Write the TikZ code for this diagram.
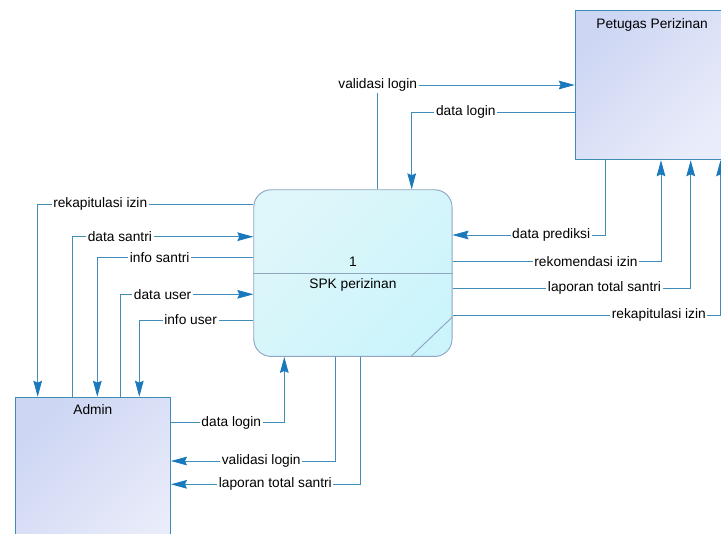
\documentclass[tikz,border=0pt]{standalone}
\usepackage{fontspec}
\setmainfont{Liberation Sans}
\usetikzlibrary{positioning,calc,arrows.meta}
\definecolor{flowline}{HTML}{3F8DB8}
\definecolor{flowtip}{HTML}{1A78BC}
\definecolor{entline}{HTML}{3D8DB5}
\definecolor{entdark}{HTML}{CDD6F3}
\definecolor{entlight}{HTML}{E9ECFA}
\definecolor{procline}{HTML}{8FA5C2}
\definecolor{procdark}{HTML}{DFF6FA}
\definecolor{proclight}{HTML}{CBF5FB}
\tikzstyle{flow} = [draw=flowline, line width=0.6pt, -{Stealth[length=12pt,width=6.5pt,inset=1.5pt,color=flowtip]}]
\tikzstyle{entity} = [draw=entline, line width=0.7pt, top color=entdark, bottom color=entlight, shading angle=45, anchor=north west, inner sep=0pt]
\tikzstyle{process} = [draw=procline, line width=0.7pt, rounded corners=13pt, top color=procdark, bottom color=proclight, shading angle=45, anchor=north west, inner sep=0pt]
\tikzstyle{lbl} = [fill=white, inner sep=1.2pt]

\begin{document}
\begin{tikzpicture}[x=0.75pt, y=-0.75pt]
\tikzstyle{every node}=[font=\fontsize{10.3}{12}\selectfont]
	\useasboundingbox (0,0) rectangle (721,533);
	\node[entity, minimum width=115.5pt, minimum height=112pt] (petugas) at (574.7,10) {};
	\node[entity, minimum width=116.5pt, minimum height=125pt] (admin) at (14.7,396.7) {};
	\node[process, minimum width=148.7pt, minimum height=125pt] (proc) at (253.3,189.3) {};
	\node[anchor=north] (petugas-t) at ([yshift=-3pt]petugas.north) {Petugas Perizinan};
	\node[anchor=north] (admin-t) at ([yshift=-2pt]admin.north) {Admin};
	\draw[procline, line width=0.7pt] (proc.west) -- (proc.east);
	\draw[procline, line width=0.7pt] ([xshift=-31.5pt]proc.south east) -- ([yshift=30pt]proc.south east);
	\node (proc-no) at ([yshift=8.7pt]proc.center) {1};
	\node (proc-name) at ([yshift=-8.7pt]proc.center) {SPK perizinan};

	\draw[flow] (proc.west |- 0,204) -| node[lbl, pos=0.355] {rekapitulasi izin} (admin.north -| 37.7,0);
	\draw[flow] (admin.north -| 72,0) |- node[lbl, pos=0.632] {data santri} (proc.west |- 0,236.7);
	\draw[flow] (proc.west |- 0,257.3) -| node[lbl, pos=0.30] {info santri} (admin.north -| 97.3,0);
	\draw[flow] (admin.north -| 120.7,0) |- node[lbl, pos=0.658] {data user} (proc.west |- 0,294.3);
	\draw[flow] (proc.west |- 0,320) -| node[lbl, pos=0.275] {info user} (admin.north -| 139.3,0);

	\draw[flow] (proc.north -| 377.7,0) |- node[lbl, pos=0.5] {validasi login} (petugas.west |- 0,85);
	\draw[flow] (petugas.west |- 0,112.3) -| node[lbl, pos=0.334] {data login} (proc.north -| 411.7,0);

	\draw[flow] (petugas.south -| 605.7,0) |- node[lbl, pos=0.678] {data prediksi} (proc.east |- 0,235);
	\draw[flow] (proc.east |- 0,261.7) -| node[lbl, pos=0.32] {rekomendasi izin} (petugas.south -| 661,0);
	\draw[flow] (proc.east |- 0,288.3) -| node[lbl, pos=0.319] {laporan total santri} (petugas.south -| 690.7,0);
	\draw[flow] (proc.east |- 0,315) -| node[lbl, pos=0.385] {rekapitulasi izin} (petugas.south -| 720.5,0);

	\draw[flow] (admin.east |- 0,422.7) -| node[lbl, pos=0.266] {data login} (proc.south -| 284.3,0);
	\draw[flow] (proc.south -| 335,0) |- node[lbl, pos=0.725] {validasi login} (admin.east |- 0,461);
	\draw[flow] (proc.south -| 360,0) |- node[lbl, pos=0.724] {laporan total santri} (admin.east |- 0,484.3);
\end{tikzpicture}
\end{document}
